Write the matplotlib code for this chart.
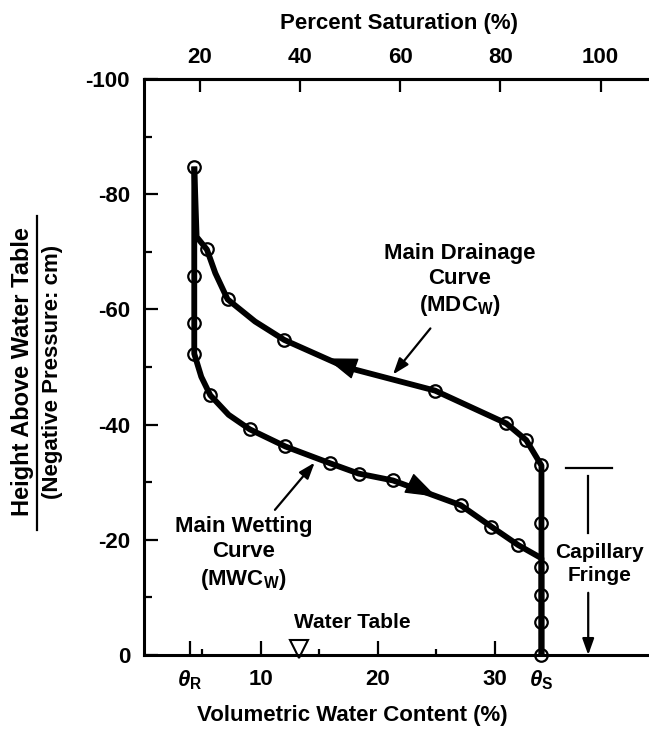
import matplotlib.pyplot as plt

plt.rcParams['font.family'] = ['Liberation Sans', 'DejaVu Sans']
plt.rcParams['font.weight'] = 'bold'
plt.rcParams['axes.unicode_minus'] = False
plt.rcParams['mathtext.fontset'] = 'custom'
plt.rcParams['mathtext.rm'] = 'Liberation Sans:bold'
plt.rcParams['mathtext.it'] = 'Liberation Sans:italic:bold'

theta_r = 3.9
theta_s = 34.0

# main drainage curve: water table -> up the saturated stretch -> dry end
mdc_x = [34.0, 34.0, 32.7, 31.0, 24.9, 17.2, 12.0, 9.5, 7.15, 6.1, 5.38, 4.5, 4.3]
mdc_y = [0, -32.9, -37.3, -40.2, -45.9, -50.0, -54.7, -57.9, -61.75, -66.3, -70.4, -72.6, -84.8]
mdc_pts_x = [34.0, 32.7, 31.0, 24.9, 12.0, 7.15, 5.38, 4.3]
mdc_pts_y = [-32.9, -37.3, -40.2, -45.9, -54.7, -61.75, -70.4, -84.8]

# main wetting curve: dry end -> down to the water table
mwc_x = [4.3, 4.3, 4.9, 5.67, 7.24, 9.03, 12.1, 15.9, 18.35, 21.3, 27.1, 29.7, 32.0, 34.0, 34.0]
mwc_y = [-84.8, -52.3, -48.3, -45.1, -41.7, -39.2, -36.2, -33.3, -31.5, -30.3, -26.0, -22.3, -19.1, -16.8, 0]
mwc_pts_x = [4.3, 4.3, 4.3, 5.67, 9.03, 12.1, 15.9, 18.35, 21.3, 27.1, 29.7, 32.0]
mwc_pts_y = [-65.8, -57.6, -52.3, -45.1, -39.2, -36.2, -33.3, -31.5, -30.3, -26.0, -22.3, -19.1]

# points on the saturated stretch
fringe_pts_x = [34.0, 34.0, 34.0, 34.0, 34.0]
fringe_pts_y = [0, -5.8, -10.4, -15.3, -22.9]

x_major = [theta_r, 10, 20, 30, theta_s]
x_major_labels = [r'$\theta_{\mathregular{R}}$', '10', '20', '30', r'$\theta_{\mathregular{S}}$']
x_minor = [5, 15, 25]
y_major = [0, -20, -40, -60, -80, -100]
y_minor = [-10, -30, -50, -70, -90]
sat_ticks = [20, 40, 60, 80, 100]


def th2sat(t):
    return 8.8 + 2.335 * t


def sat2th(s):
    return (s - 8.8) / 2.335


fig = plt.figure(figsize=(6.49, 7.30), dpi=100)
ax = fig.add_axes([144/649, 1 - 655/730, 1 - 144/649, (655 - 79)/730])
ax.set_xlim(0, 43.2)
ax.set_ylim(0, -100)

for s in ['left', 'bottom', 'top']:
    ax.spines[s].set_linewidth(2.2)
ax.spines['right'].set_visible(False)

ax.set_xticks(x_major)
ax.set_xticklabels(x_major_labels)
ax.set_xticks(x_minor, minor=True)
ax.set_yticks(y_major)
ax.set_yticklabels([str(v) for v in y_major])
ax.set_yticks(y_minor, minor=True)
ax.tick_params(which='major', direction='in', length=10, width=1.6, labelsize=16, pad=10)
ax.tick_params(axis='x', which='minor', direction='in', length=4, width=1.6)
ax.tick_params(axis='y', which='minor', direction='in', length=6, width=1.6)
ax.tick_params(axis='y', which='major', pad=10)

top = ax.secondary_xaxis('top', functions=(th2sat, sat2th))
top.set_xticks(sat_ticks)
top.tick_params(direction='in', length=9, width=1.6, labelsize=16, pad=8)
top.spines['top'].set_linewidth(2.2)

# curves
ax.plot(mdc_x, mdc_y, color='black', lw=4.2, solid_capstyle='butt', zorder=3)
ax.plot(mwc_x, mwc_y, color='black', lw=4.2, solid_capstyle='butt', zorder=3)
for px, py in [(mdc_pts_x, mdc_pts_y), (mwc_pts_x, mwc_pts_y), (fringe_pts_x, fringe_pts_y)]:
    ax.plot(px, py, 'o', ms=9, mfc='none', mec='black', mew=1.6, zorder=4, clip_on=False)

# direction arrowheads on the curves
head = dict(arrowstyle='-|>,head_length=0.8,head_width=0.28', color='black', lw=1,
            mutation_scale=25, shrinkA=0, shrinkB=0)
ax.annotate('', xy=(15.6, -51.5), xytext=(18.2, -49.6), arrowprops=head, zorder=5)
ax.annotate('', xy=(25.0, -27.5), xytext=(23.3, -29.2), arrowprops=head, zorder=5)

# labels with pointers
thin = dict(arrowstyle='-|>,head_length=0.7,head_width=0.25', color='black', lw=1.6,
            mutation_scale=14, shrinkA=0, shrinkB=0)
ax.annotate('', xy=(21.3, -48.7), xytext=(24.5, -56.7), arrowprops=thin)
ax.annotate('', xy=(14.6, -33.4), xytext=(11.2, -25.2), arrowprops=thin)
ax.text(27.0, -65.0, 'Main Drainage\nCurve\n(MDC$_{\\mathregular{W}}$)', ha='center', va='center',
        fontsize=16, linespacing=1.25)
ax.text(8.5, -17.5, 'Main Wetting\nCurve\n(MWC$_{\\mathregular{W}}$)', ha='center', va='center',
        fontsize=16, linespacing=1.25)

# water table
ax.plot([13.3], [-1.1], marker='v', ms=13, mfc='white', mec='black', mew=1.5, clip_on=False)
ax.text(17.8, -5.6, 'Water Table', ha='center', va='center', fontsize=15)

# capillary fringe
ax.plot([36.1, 40.0], [-32.4, -32.4], color='black', lw=1.6)
ax.plot([38.0, 38.0], [-31.0, -21.2], color='black', lw=1.6)
ax.annotate('', xy=(38.0, 0), xytext=(38.0, -10.8), arrowprops=thin)
ax.text(39.0, -15.8, 'Capillary\nFringe', ha='center', va='center', fontsize=15, linespacing=1.25)

# axis titles
fig.text(399/649, 1 - 23/730, 'Percent Saturation (%)', ha='center', va='center', fontsize=16)
fig.text(352/649, 1 - 716/730, 'Volumetric Water Content (%)', ha='center', va='center', fontsize=16)
fig.text(23/649, 1 - 372/730, 'Height Above Water Table', rotation=90, ha='center', va='center',
         fontsize=17)
fig.text(53/649, 1 - 372/730, '(Negative Pressure: cm)', rotation=90, ha='center', va='center',
         fontsize=16)
fig.add_artist(plt.Line2D([37/649, 37/649], [1 - 530/730, 1 - 216/730], color='black', lw=1.6))

fig.savefig('out.png', dpi=100)
